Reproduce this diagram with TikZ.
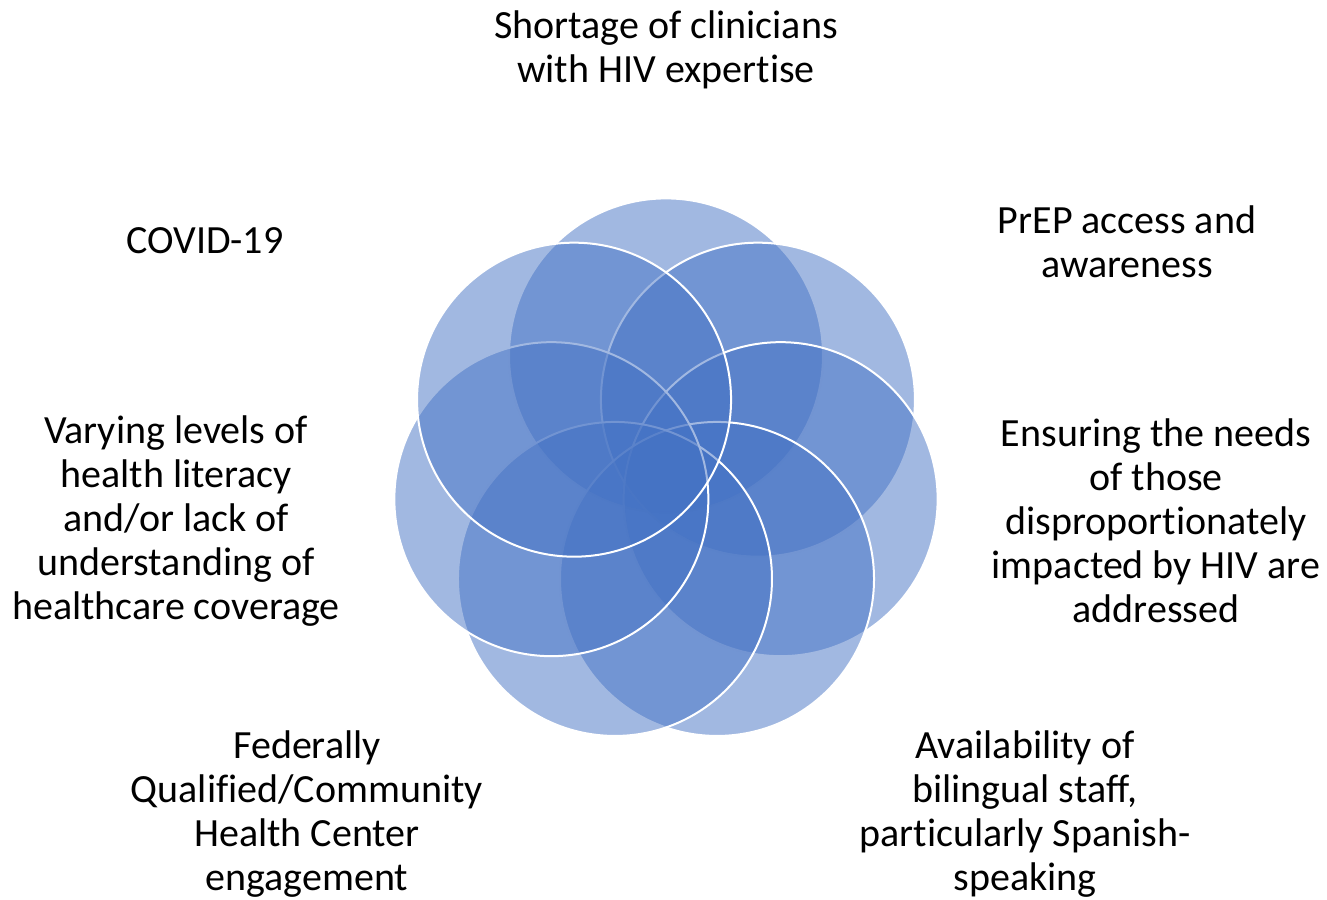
\documentclass[tikz,border=0pt]{standalone}
\usepackage{fontspec}
\setmainfont{Carlito}[RawFeature={-liga}]
\usepackage{xcolor}
\definecolor{vennblue}{HTML}{4472C4}

\begin{document}
\begin{tikzpicture}[x=0.75pt,y=0.75pt,
    venn/.style={fill=vennblue,fill opacity=0.5,draw=white,line width=1.5pt},
    lbl/.style={align=center,inner sep=0pt,font=\fontsize{30}{33}\selectfont}]
                \useasboundingbox (-666,-426) rectangle (661,473);

                % seven circles round the middle
                \foreach \i in {0,...,6}
                    \draw[venn] ({90-\i*360/7}:117.6) circle (157);

                \node[lbl] (shortage) at (0,423) {Shortage of clinicians\\with HIV expertise};
                \node[lbl] (prep) at (461,231) {PrEP access and\\awareness};
                \node[lbl] (needs) at (490,-48) {Ensuring the needs\\of those\\disproportionately\\impacted by HIV are\\addressed};
                \node[lbl] (bilingual) at (359,-341) {Availability of\\bilingual staff,\\particularly Spanish-\\speaking};
                \node[lbl] (fqhc) at (-359,-341) {Federally\\Qualified/Community\\Health Center\\engagement};
                \node[lbl] (literacy) at (-490,-48) {Varying levels of\\health literacy\\and/or lack of\\understanding of\\healthcare coverage};
                \node[lbl] (covid) at (-461,232) {COVID-19};
            \end{tikzpicture}
\end{document}
